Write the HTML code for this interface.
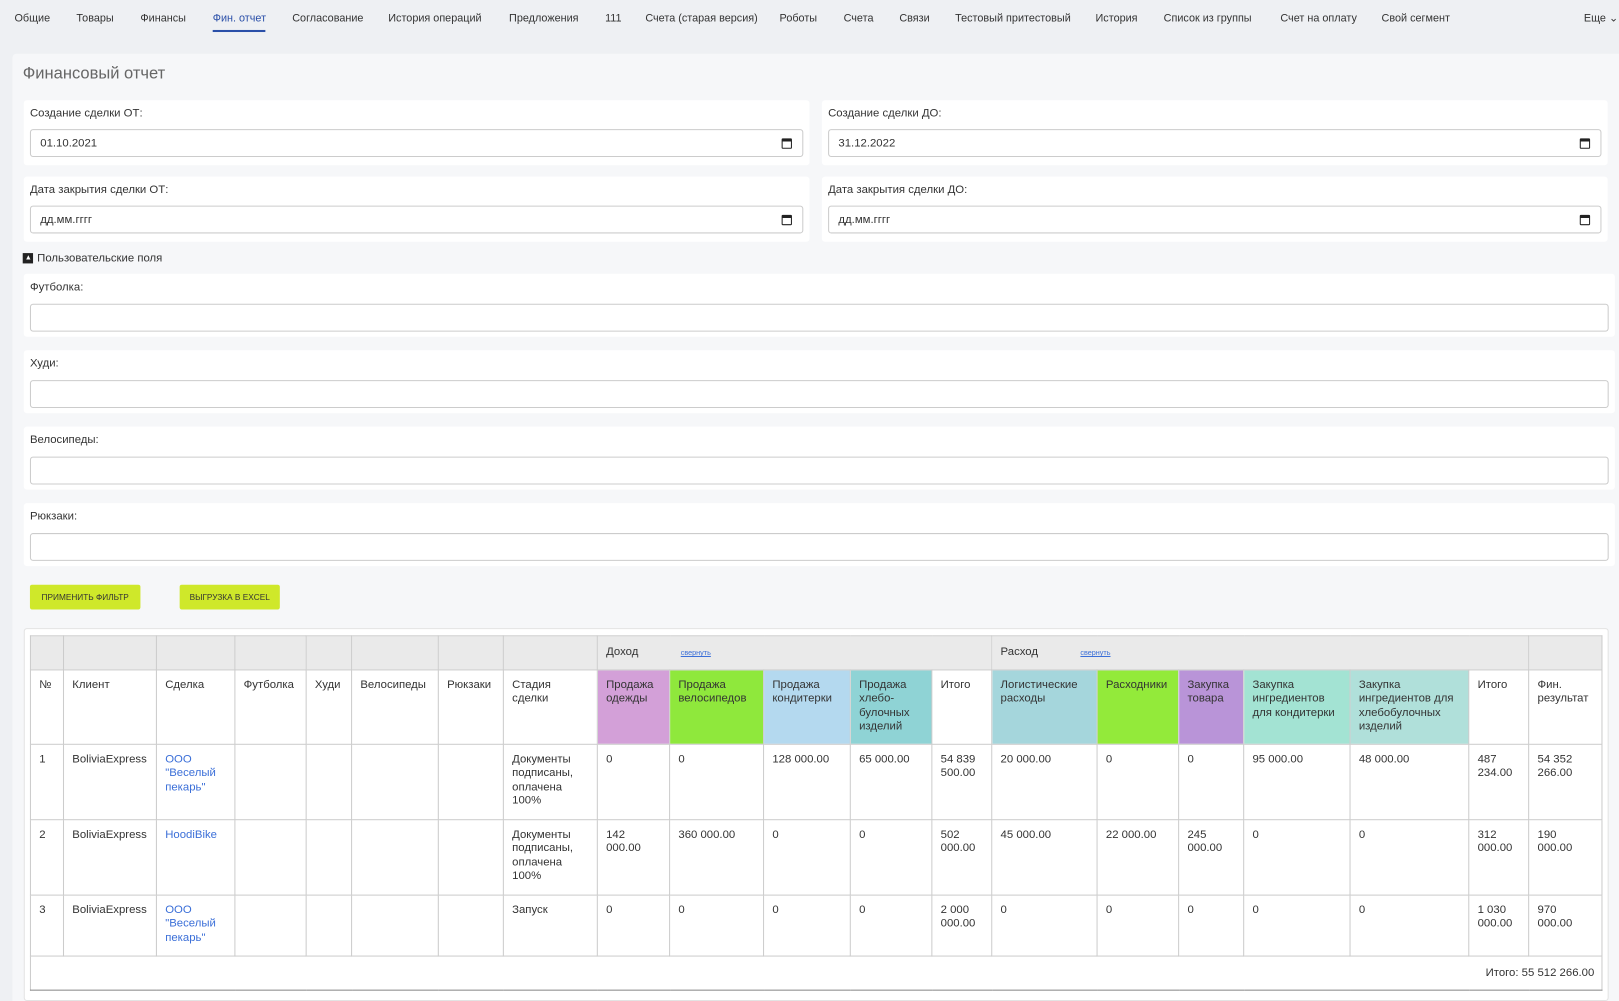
<!DOCTYPE html>
<html><head><meta charset="utf-8"><style>
*{box-sizing:border-box;margin:0;padding:0}
html,body{width:1619px;height:1001px;overflow:hidden;background:#eef0f3;font-family:"Liberation Sans",sans-serif;color:#333}
#w{position:absolute;left:0;top:0;width:1568px;height:969px;transform:scale(1.03253,1.03302);transform-origin:0 0}
.a{position:absolute;white-space:nowrap}
.nav{top:12px;font-size:10.5px;color:#333}
.panel{position:absolute;left:12px;top:52px;width:1556px;height:917px;background:#f6f7f9;border-radius:4px 0 0 0}
.card{position:absolute;background:#fff;border-radius:3px}
.lbl{position:absolute;left:6px;font-size:11px;color:#333}
.inp{position:absolute;left:6px;right:6px;height:27px;border:1px solid #ccc;border-radius:3px;font-size:11px;padding:7px 9px;color:#333}
.cal{position:absolute;right:10px;top:8px;width:10px;height:10px;border:1.5px solid #222;border-top-width:3px;border-radius:1px}
.btn{position:absolute;top:566px;height:24px;background:#cfe82a;font-size:8px;color:#333;padding-top:8px;text-align:center;border-radius:2px}
table{position:absolute;left:29px;top:615px;width:1522px;border-collapse:collapse;table-layout:fixed;font-size:11px;color:#333}
td{border:1px solid #ccc;vertical-align:top;padding:8px 7px 8px 8px;line-height:13.5px;overflow:hidden}
tr.h1 td{background:#eaeaea;height:32px;padding-top:9px}
tr.h2 td{height:72px}
tr.r1 td{height:73px}tr.r2 td{height:73px}tr.r3 td{height:59px}
tr.ft td{height:33px;text-align:right;padding-top:10px}
a{color:#3b6fd8;text-decoration:none}
.sv{font-size:7px;color:#3b6fd8;text-decoration:underline;margin-left:38px}
</style></head><body><div id="w">
<div class="a nav" style="left:14px">Общие</div>
<div class="a nav" style="left:74px">Товары</div>
<div class="a nav" style="left:136px">Финансы</div>
<div class="a nav" style="left:206px;color:#2a4fa8">Фин. отчет</div>
<div class="a" style="left:206px;top:29px;width:51px;height:2px;background:#2a4fa8"></div>
<div class="a nav" style="left:283px">Согласование</div>
<div class="a nav" style="left:376px">История операций</div>
<div class="a nav" style="left:493px">Предложения</div>
<div class="a nav" style="left:586px">111</div>
<div class="a nav" style="left:625px">Счета (старая версия)</div>
<div class="a nav" style="left:755px">Роботы</div>
<div class="a nav" style="left:817px">Счета</div>
<div class="a nav" style="left:871px">Связи</div>
<div class="a nav" style="left:925px">Тестовый притестовый</div>
<div class="a nav" style="left:1061px">История</div>
<div class="a nav" style="left:1127px">Список из группы</div>
<div class="a nav" style="left:1240px">Счет на оплату</div>
<div class="a nav" style="left:1338px">Свой сегмент</div>
<div class="a nav" style="left:1534px">Еще ⌄</div>
<div class="panel"></div>
<div class="a" style="left:22px;top:63px;font-size:16px;color:#666">Финансовый отчет</div>

<div class="card" style="left:23px;top:97px;width:761px;height:63px"><div class="lbl" style="top:7px">Создание сделки ОТ:</div><div class="inp" style="top:28px">01.10.2021<div class="cal"></div></div></div>
<div class="card" style="left:796px;top:97px;width:761px;height:63px"><div class="lbl" style="top:7px">Создание сделки ДО:</div><div class="inp" style="top:28px">31.12.2022<div class="cal"></div></div></div>
<div class="card" style="left:23px;top:171px;width:761px;height:63px"><div class="lbl" style="top:7px">Дата закрытия сделки ОТ:</div><div class="inp" style="top:28px">дд.мм.гггг<div class="cal"></div></div></div>
<div class="card" style="left:796px;top:171px;width:761px;height:63px"><div class="lbl" style="top:7px">Дата закрытия сделки ДО:</div><div class="inp" style="top:28px">дд.мм.гггг<div class="cal"></div></div></div>

<div class="a" style="left:22px;top:245px;width:10px;height:10px;background:#222"></div>
<div class="a" style="left:24px;top:246px;font-size:7px;color:#fff;line-height:8px">▲</div>
<div class="a" style="left:36px;top:244px;font-size:11px">Пользовательские поля</div>

<div class="card" style="left:23px;top:265px;width:1541px;height:61px"><div class="lbl" style="top:7px">Футболка:</div><div class="inp" style="top:29px;height:27px"></div></div>
<div class="card" style="left:23px;top:339px;width:1541px;height:61px"><div class="lbl" style="top:7px">Худи:</div><div class="inp" style="top:29px;height:27px"></div></div>
<div class="card" style="left:23px;top:413px;width:1541px;height:61px"><div class="lbl" style="top:7px">Велосипеды:</div><div class="inp" style="top:29px;height:27px"></div></div>
<div class="card" style="left:23px;top:487px;width:1541px;height:61px"><div class="lbl" style="top:7px">Рюкзаки:</div><div class="inp" style="top:29px;height:27px"></div></div>

<div class="btn" style="left:29px;width:107px">ПРИМЕНИТЬ ФИЛЬТР</div>
<div class="btn" style="left:174px;width:97px">ВЫГРУЗКА В EXCEL</div>

<div class="card" style="left:23px;top:608px;width:1535px;height:361px;border:1px solid #e3e3e3"></div>
<table>
<colgroup><col style="width:32px"><col style="width:90px"><col style="width:76px"><col style="width:69px"><col style="width:44px"><col style="width:84px"><col style="width:63px"><col style="width:91px"><col style="width:70px"><col style="width:91px"><col style="width:84px"><col style="width:79px"><col style="width:58px"><col style="width:102px"><col style="width:79px"><col style="width:63px"><col style="width:103px"><col style="width:115px"><col style="width:58px"><col style="width:71px"></colgroup>
<tr class="h1"><td></td><td></td><td></td><td></td><td></td><td></td><td></td><td></td><td colspan="5">Доход <span class="sv">свернуть</span></td><td colspan="6">Расход <span class="sv">свернуть</span></td><td></td></tr>
<tr class="h2"><td>№</td><td>Клиент</td><td>Сделка</td><td>Футболка</td><td>Худи</td><td>Велосипеды</td><td>Рюкзаки</td><td>Стадия сделки</td>
<td style="background:#d3a0d8">Продажа одежды</td><td style="background:#8fe83c">Продажа велосипедов</td><td style="background:#b4d9ef">Продажа кондитерки</td><td style="background:#8fd3d5">Продажа хлебо-булочных изделий</td><td>Итого</td>
<td style="background:#a5d6dc">Логистические расходы</td><td style="background:#93ea3a">Расходники</td><td style="background:#b994d8">Закупка товара</td><td style="background:#a3e3d3">Закупка ингредиентов для кондитерки</td><td style="background:#b0e0da">Закупка ингредиентов для хлебобулочных изделий</td><td>Итого</td><td>Фин. результат</td></tr>
<tr class="r1"><td>1</td><td>BoliviaExpress</td><td><a>ООО "Веселый пекарь"</a></td><td></td><td></td><td></td><td></td><td>Документы подписаны, оплачена 100%</td><td>0</td><td>0</td><td>128 000.00</td><td>65 000.00</td><td>54 839 500.00</td><td>20 000.00</td><td>0</td><td>0</td><td>95 000.00</td><td>48 000.00</td><td>487 234.00</td><td>54 352 266.00</td></tr>
<tr class="r2"><td>2</td><td>BoliviaExpress</td><td><a>HoodiBike</a></td><td></td><td></td><td></td><td></td><td>Документы подписаны, оплачена 100%</td><td>142 000.00</td><td>360 000.00</td><td>0</td><td>0</td><td>502 000.00</td><td>45 000.00</td><td>22 000.00</td><td>245 000.00</td><td>0</td><td>0</td><td>312 000.00</td><td>190 000.00</td></tr>
<tr class="r3"><td>3</td><td>BoliviaExpress</td><td><a>ООО "Веселый пекарь"</a></td><td></td><td></td><td></td><td></td><td>Запуск</td><td>0</td><td>0</td><td>0</td><td>0</td><td>2 000 000.00</td><td>0</td><td>0</td><td>0</td><td>0</td><td>0</td><td>1 030 000.00</td><td>970 000.00</td></tr>
<tr class="ft"><td colspan="20" style="border-bottom:1px solid #888">Итого: 55 512 266.00</td></tr>
</table>
</div></body></html>
